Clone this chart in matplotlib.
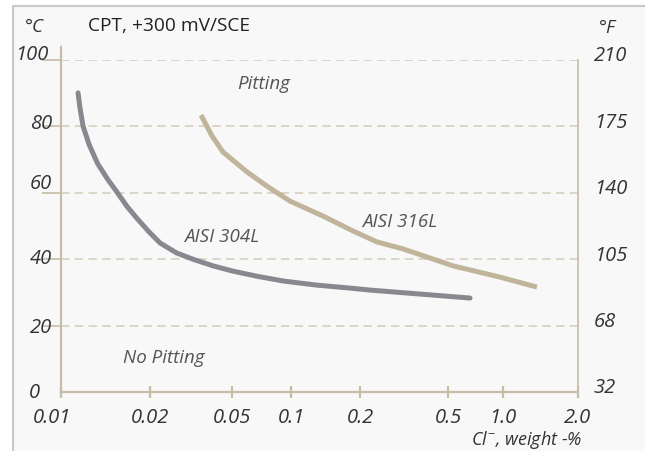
import numpy as np
import matplotlib
matplotlib.use("Agg")
import matplotlib.pyplot as plt
from matplotlib.patches import Rectangle
import matplotlib.transforms as mtransforms

# ---------------- data ----------------
x_ticks = [0.01, 0.02, 0.05, 0.1, 0.2, 0.5, 1.0, 2.0]
x_tick_labels = ["0.01", "0.02", "0.05", "0.1", "0.2", "0.5", "1.0", "2.0"]
c_ticks = [0, 20, 40, 60, 80, 100]
c_labels = ["0", "20", "40", "60", "80", "100"]
f_labels = ["32", "68", "105", "140", "175", "210"]

cl_304 = [0.01142, 0.01160, 0.01187, 0.01245, 0.01330, 0.01440, 0.01547,
          0.01672, 0.01807, 0.01977, 0.02236, 0.02690, 0.0323, 0.0404,
          0.0506, 0.0679, 0.0921, 0.1292, 0.1807, 0.222, 0.3736, 0.660]
t_304 = [90.1, 85.4, 80.1, 74.5, 68.8, 64.0, 60.2,
         55.9, 52.3, 48.4, 44.9, 41.9, 40.0, 38.0,
         36.4, 34.8, 33.4, 32.2, 31.3, 30.7, 29.5, 28.3]

cl_316 = [0.03536, 0.04, 0.0452, 0.0596, 0.0754, 0.0988, 0.1379, 0.1864,
          0.2388, 0.313, 0.5325, 0.9627, 1.369]
t_316 = [83.4, 77.1, 72.3, 66.3, 62.0, 57.5, 53.0, 48.5, 45.2, 43.1, 38.0, 34.6, 31.6]

# ---------------- style ----------------
W, H = 645, 452
FONT = ["Open Sans", "DejaVu Sans"]
plt.rcParams["font.family"] = FONT
plt.rcParams["mathtext.fontset"] = "custom"
plt.rcParams["mathtext.rm"] = "Open Sans"
plt.rcParams["mathtext.it"] = "Open Sans:italic"
AXIS_C = "#c6bda6"
GRID_C = "#d3ccba"
GRAY_C = "#88898f"
TAN_C = "#c0b59b"
TXT_C = "#333333"
ANN_C = "#555555"
TICK_FS = 14.5
ANN_FS = 13.5

# piecewise log scale breakpoints (fractions of axis width at tick values)
scale_frac = np.array([0, 89, 171, 230, 299, 387, 442, 517]) / 517.0
scale_log = np.log10(np.array(x_ticks))


def fwd(x):
    x = np.clip(np.asarray(x, dtype=float), 1e-9, None)
    return np.interp(np.log10(x), scale_log, scale_frac)


def inv(p):
    return 10 ** np.interp(np.asarray(p, dtype=float), scale_frac, scale_log)


fig = plt.figure(figsize=(W / 100, H / 100), dpi=100, facecolor="white")
fig.patches.append(Rectangle((13 / W, -0.05), 1.2, (H - 7) / H + 0.05,
                             transform=fig.transFigure, facecolor="#f8f8f8",
                             edgecolor="#c8c8c8", lw=1.5, zorder=-10))

ax = fig.add_axes([61 / W, 1 - 393 / H, 517 / W, 332 / H])
ax.set_facecolor("none")
ax.set_xscale("function", functions=(fwd, inv))
ax.set_xlim(0.01, 2.0)
ax.set_ylim(0, 100)

ax.spines["top"].set_visible(False)
for s in ["left", "right", "bottom"]:
    ax.spines[s].set_color(AXIS_C)
    ax.spines[s].set_linewidth(1.6)
ax.spines["left"].set_bounds(0, 104)
ax.spines["right"].set_linewidth(1.2)

# grid (dashed)
for v in c_ticks[1:]:
    ax.axhline(v, color=GRID_C, lw=1.1, ls=(0, (5.5, 3.5)), zorder=1)

# x ticks
ax.set_xticks(x_ticks)
ax.set_xticklabels(x_tick_labels)
ax.xaxis.set_minor_locator(matplotlib.ticker.NullLocator())
ax.tick_params(axis="x", direction="inout", length=8, width=1.6, color=AXIS_C,
               pad=7, labelsize=TICK_FS, labelcolor=TXT_C)
for lbl in ax.get_xticklabels():
    lbl.set_fontstyle("italic")
off = mtransforms.ScaledTranslation(-9 / 100, 0, fig.dpi_scale_trans)
ax.get_xticklabels()[0].set_transform(ax.get_xticklabels()[0].get_transform() + off)

# y ticks (left, outward) with manually placed labels
ax.set_yticks(c_ticks[1:])
ax.set_yticklabels([])
ax.tick_params(axis="y", direction="out", length=14, width=1.2, color=AXIS_C,
               left=True, right=False)

ytr = mtransforms.blended_transform_factory(ax.transAxes, ax.transData)
left_dy = [0, -1, 1, 10, 3, 6]
left_dx = [-12, 0, 0, 0, 0, -4]
for v, lab, dy, dx in zip(c_ticks, c_labels, left_dy, left_dx):
    t = ytr + mtransforms.ScaledTranslation((-9 + dx) / 100, dy / 100, fig.dpi_scale_trans)
    ax.text(0, v, lab, transform=t, ha="right", va="center", fontsize=TICK_FS,
            style="italic", color=TXT_C)
for v, lab in zip(c_ticks, f_labels):
    t = ytr + mtransforms.ScaledTranslation(16 / 100, 4.5 / 100, fig.dpi_scale_trans)
    ax.text(1, v, lab, transform=t, ha="left", va="center", fontsize=TICK_FS,
            style="italic", color=TXT_C)

# curves
ax.plot(cl_304, t_304, color=GRAY_C, lw=3.6, solid_capstyle="round",
        solid_joinstyle="round", zorder=3)
ax.plot(cl_316, t_316, color=TAN_C, lw=3.6, solid_capstyle="butt",
        solid_joinstyle="round", zorder=3)

# annotations
ax.text(0.0728, 93.1, "Pitting", ha="center", va="center", fontsize=ANN_FS,
        style="italic", color=ANN_C)
ax.text(0.0445, 47.0, "AISI 304L", ha="center", va="center", fontsize=ANN_FS,
        style="italic", color=ANN_C)
ax.text(0.302, 51.5, "AISI 316L", ha="center", va="center", fontsize=ANN_FS,
        style="italic", color=ANN_C)
ax.text(0.0233, 10.5, "No Pitting", ha="center", va="center", fontsize=ANN_FS,
        style="italic", color=ANN_C)


def px(x, y):
    return x / W, 1 - y / H


fig.text(*px(25, 27), "°C", ha="left", va="center", fontsize=13.5,
         style="italic", color=TXT_C)
fig.text(*px(88, 26), "CPT, +300 mV/SCE", ha="left", va="center", fontsize=13.8,
         color="#222222")
fig.text(*px(599, 28), "°F", ha="left", va="center", fontsize=13.5,
         style="italic", color=TXT_C)
fig.text(*px(582, 440), r"$\mathit{Cl}^{-}$, weight -%", ha="right", va="center",
         fontsize=13, style="italic", color=TXT_C)

fig.savefig("out.png", dpi=100, facecolor="white")
